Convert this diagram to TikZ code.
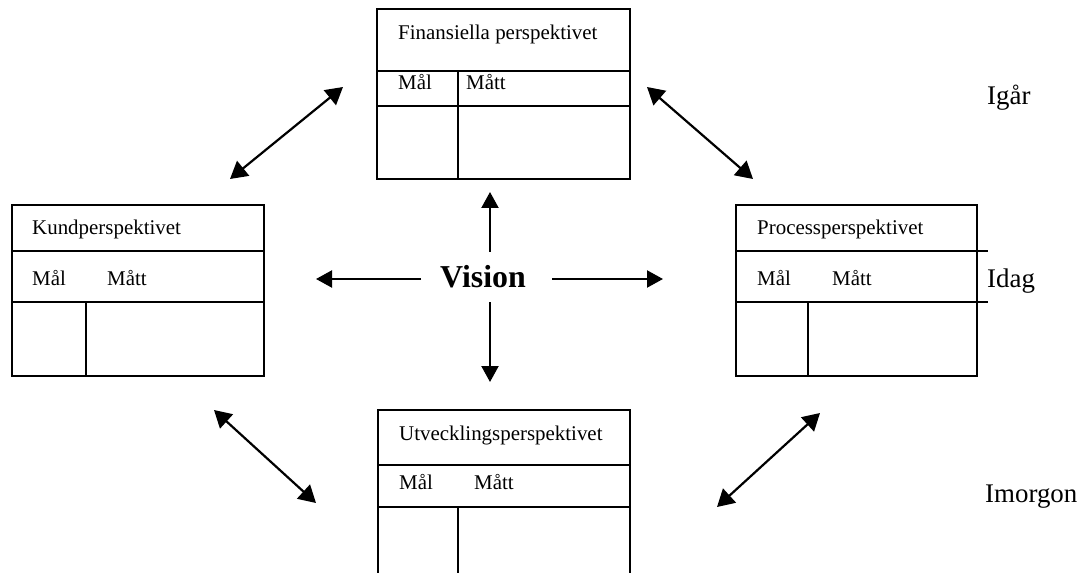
\documentclass[tikz,border=0pt]{standalone}
\usepackage{fontspec}
\setmainfont{Liberation Serif}
\usetikzlibrary{arrows.meta}
\begin{document}
\begin{tikzpicture}[x=1bp,y=-1bp,
  box/.style={draw, line width=1.8bp, inner sep=0pt, outer sep=0pt, rectangle},
  rule/.style={line width=1.8bp},
  lbl/.style={anchor=base west, inner sep=0pt, font=\fontsize{21}{25}\selectfont},
  side/.style={anchor=base west, inner sep=0pt, font=\fontsize{27}{32}\selectfont},
  link/.style={line width=2.2bp, {Triangle[length=17bp,width=19bp]}-{Triangle[length=17bp,width=19bp]}},
  ray/.style={line width=2.2bp, -{Triangle[length=16bp,width=17bp]}}]
\useasboundingbox (0,0) rectangle (1086,573);
\clip (0,0) rectangle (1086,573);

% boxes
\node[box, minimum width=253bp, minimum height=170bp] (fin)  at (503.5,94) {};
\node[box, minimum width=252bp, minimum height=171bp] (kund) at (138,290.5) {};
\node[box, minimum width=241bp, minimum height=171bp] (proc) at (856.5,290.5) {};
\node[box, minimum width=252bp, minimum height=180bp] (utv)  at (504,500) {};

% internal rules
\draw[rule] (377,71) -- (630,71);
\draw[rule] (377,106) -- (630,106);
\draw[rule] (458,71) -- (458,179);

\draw[rule] (12,251) -- (264,251);
\draw[rule] (12,302) -- (264,302);
\draw[rule] (86,302) -- (86,376);

\draw[rule] (736,251) -- (988,251);
\draw[rule] (736,302) -- (988,302);
\draw[rule] (808,302) -- (808,376);

\draw[rule] (378,465) -- (630,465);
\draw[rule] (378,507) -- (630,507);
\draw[rule] (458,507) -- (458,590);

% texts
\node[lbl] (tfin) at (398,40) {Finansiella perspektivet};
\node[lbl] (mfin) at (398,90) {Mål};
\node[lbl] (afin) at (466,90) {Mått};

\node[lbl] (tkund) at (32,235) {Kundperspektivet};
\node[lbl] (mkund) at (32,286) {Mål};
\node[lbl] (akund) at (107,286) {Mått};

\node[lbl] (tproc) at (757,235) {Processperspektivet};
\node[lbl] (mproc) at (757,286) {Mål};
\node[lbl] (aproc) at (832,286) {Mått};

\node[lbl] (tutv) at (399,440) {Utvecklingsperspektivet};
\node[lbl] (mutv) at (399,489) {Mål};
\node[lbl] (autv) at (474,489) {Mått};

\node[side] (igar) at (987,105) {Igår};
\node[side] (idag) at (987,288) {Idag};
\node[side] (imorgon) at (985,502) {Imorgon};

% vision
\node[inner sep=0pt, anchor=base, font=\bfseries\fontsize{32}{36}\selectfont] (vision) at (483,288) {Vision};

% arrow end points
\coordinate (vu0) at (490,252); \coordinate (vu1) at (490,192);
\coordinate (vd0) at (490,302); \coordinate (vd1) at (490,382);
\coordinate (vl0) at (421,279); \coordinate (vl1) at (316,279);
\coordinate (vr0) at (552,279); \coordinate (vr1) at (663,279);

\coordinate (a1) at (343,87);  \coordinate (b1) at (230,179);
\coordinate (a2) at (647,87);  \coordinate (b2) at (753,179);
\coordinate (a3) at (214,410); \coordinate (b3) at (316,503);
\coordinate (a4) at (820,413); \coordinate (b4) at (717,507);

\draw[ray] (vu0) -- (vu1);
\draw[ray] (vd0) -- (vd1);
\draw[ray] (vl0) -- (vl1);
\draw[ray] (vr0) -- (vr1);

\draw[link] (a1) -- (b1);
\draw[link] (a2) -- (b2);
\draw[link] (a3) -- (b3);
\draw[link] (a4) -- (b4);
\end{tikzpicture}
\end{document}
